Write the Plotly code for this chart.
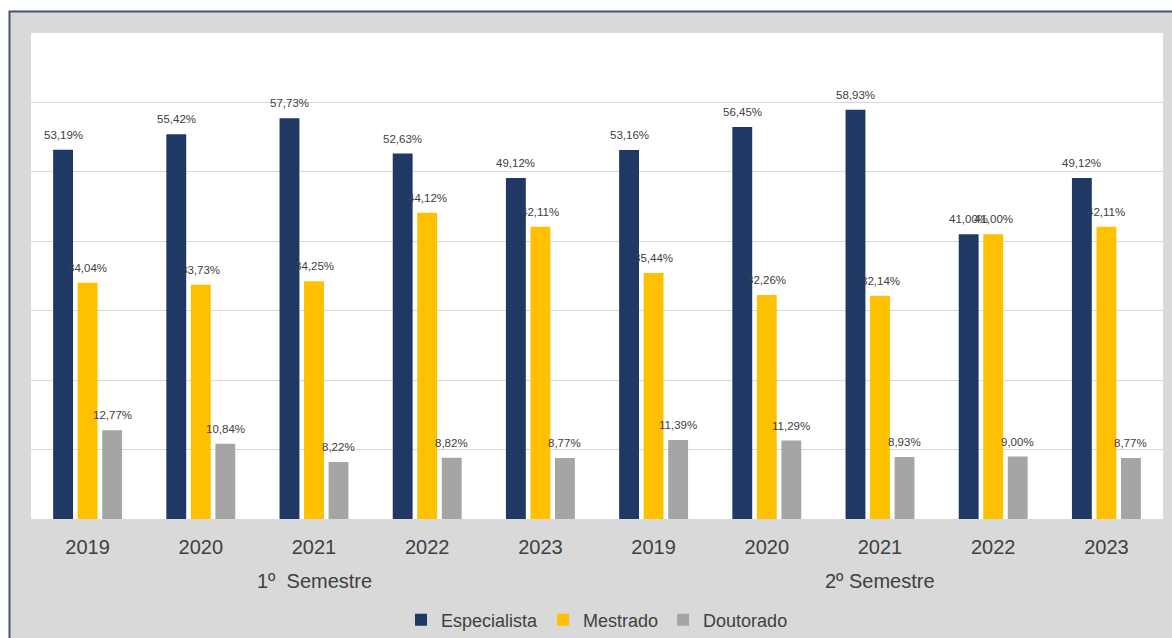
import plotly.graph_objects as go

years = ["2019", "2020", "2021", "2022", "2023", "2019", "2020", "2021", "2022", "2023"]
semesters = ["1º\u00a0 Semestre", "2º Semestre"]
especialista = [53.19, 55.42, 57.73, 52.63, 49.12, 53.16, 56.45, 58.93, 41.00, 49.12]
mestrado = [34.04, 33.73, 34.25, 44.12, 42.11, 35.44, 32.26, 32.14, 41.00, 42.11]
doutorado = [12.77, 10.84, 8.22, 8.82, 8.77, 11.39, 11.29, 8.93, 9.00, 8.77]

series = [("Especialista", especialista, "#1F3864"),
          ("Mestrado", mestrado, "#FFC000"),
          ("Doutorado", doutorado, "#A5A5A5")]

xpos = list(range(len(years)))

def fmt(v):
    return f"{v:.2f}".replace(".", ",") + "%"

W, H = 1172, 638
L, R, T, B = 31, 9, 33, 119
pw, ph = W - L - R, H - T - B
BARGAP = 0.35
slot_px = pw / len(years) * (1 - BARGAP) / len(series)

def px_x(p):
    return (p - L) / pw

def px_y(p):
    return (H - B - p) / ph

fig = go.Figure()
for k, (name, vals, col) in enumerate(series):
    fig.add_trace(go.Bar(
        x=xpos, y=vals, name=name,
        marker=dict(color=col, line=dict(width=0)),
    ))
    for xi, v in zip(xpos, vals):
        fig.add_annotation(x=xi, y=v, xref="x", yref="y", text=fmt(v),
                           showarrow=False, yanchor="middle",
                           xshift=(k - 1) * slot_px, yshift=15,
                           font=dict(family="Liberation Sans, Arial", size=11.5, color="#404040"))

# outer gray frame with blue-gray top/left border
fig.add_shape(type="rect", xref="paper", yref="paper",
              x0=px_x(9.5), x1=1.2, y0=-0.6, y1=px_y(11.5),
              fillcolor="#D9D9D9", line=dict(color="#44546A", width=2),
              layer="below")
# white plot area
fig.add_shape(type="rect", xref="paper", yref="paper",
              x0=0, x1=1, y0=0, y1=1,
              fillcolor="white", line=dict(width=0),
              layer="below")

for i, s in enumerate(semesters):
    fig.add_annotation(x=2 + 5 * i, y=px_y(581), xref="x", yref="paper",
                       text=s, showarrow=False, yanchor="middle",
                       font=dict(family="Liberation Sans, Arial", size=20, color="#404040"))

fig.update_layout(
    width=W, height=H,
    margin=dict(l=L, r=R, t=T, b=B, autoexpand=False),
    paper_bgcolor="white", plot_bgcolor="white",
    barmode="group", bargap=BARGAP, bargroupgap=0.19,
    font=dict(family="Liberation Sans, Arial", color="#404040"),
    showlegend=True,
    legend=dict(orientation="h", x=0.5, xanchor="center",
                yref="container", y=(H - 620) / H, yanchor="middle",
                font=dict(size=18, color="#404040"), bgcolor="rgba(0,0,0,0)",
                itemwidth=30),
    xaxis=dict(range=[-0.5, 9.5], tickmode="array", tickvals=xpos, ticktext=years,
               showgrid=False, zeroline=False, showline=True, linecolor="#D9D9D9", linewidth=1,
               ticks="", ticklabelstandoff=10, automargin=False,
               tickfont=dict(size=20, color="#404040")),
    yaxis=dict(range=[0, 70], dtick=10, showticklabels=False, showgrid=True,
               gridcolor="#D9D9D9", gridwidth=1, zeroline=False, showline=False, ticks="",
               automargin=False),
)

fig.write_html("out.html", config={"displayModeBar": False},
               post_script="document.body.style.margin='0';document.body.style.padding='0';"
                           "document.documentElement.style.overflow='hidden';")
